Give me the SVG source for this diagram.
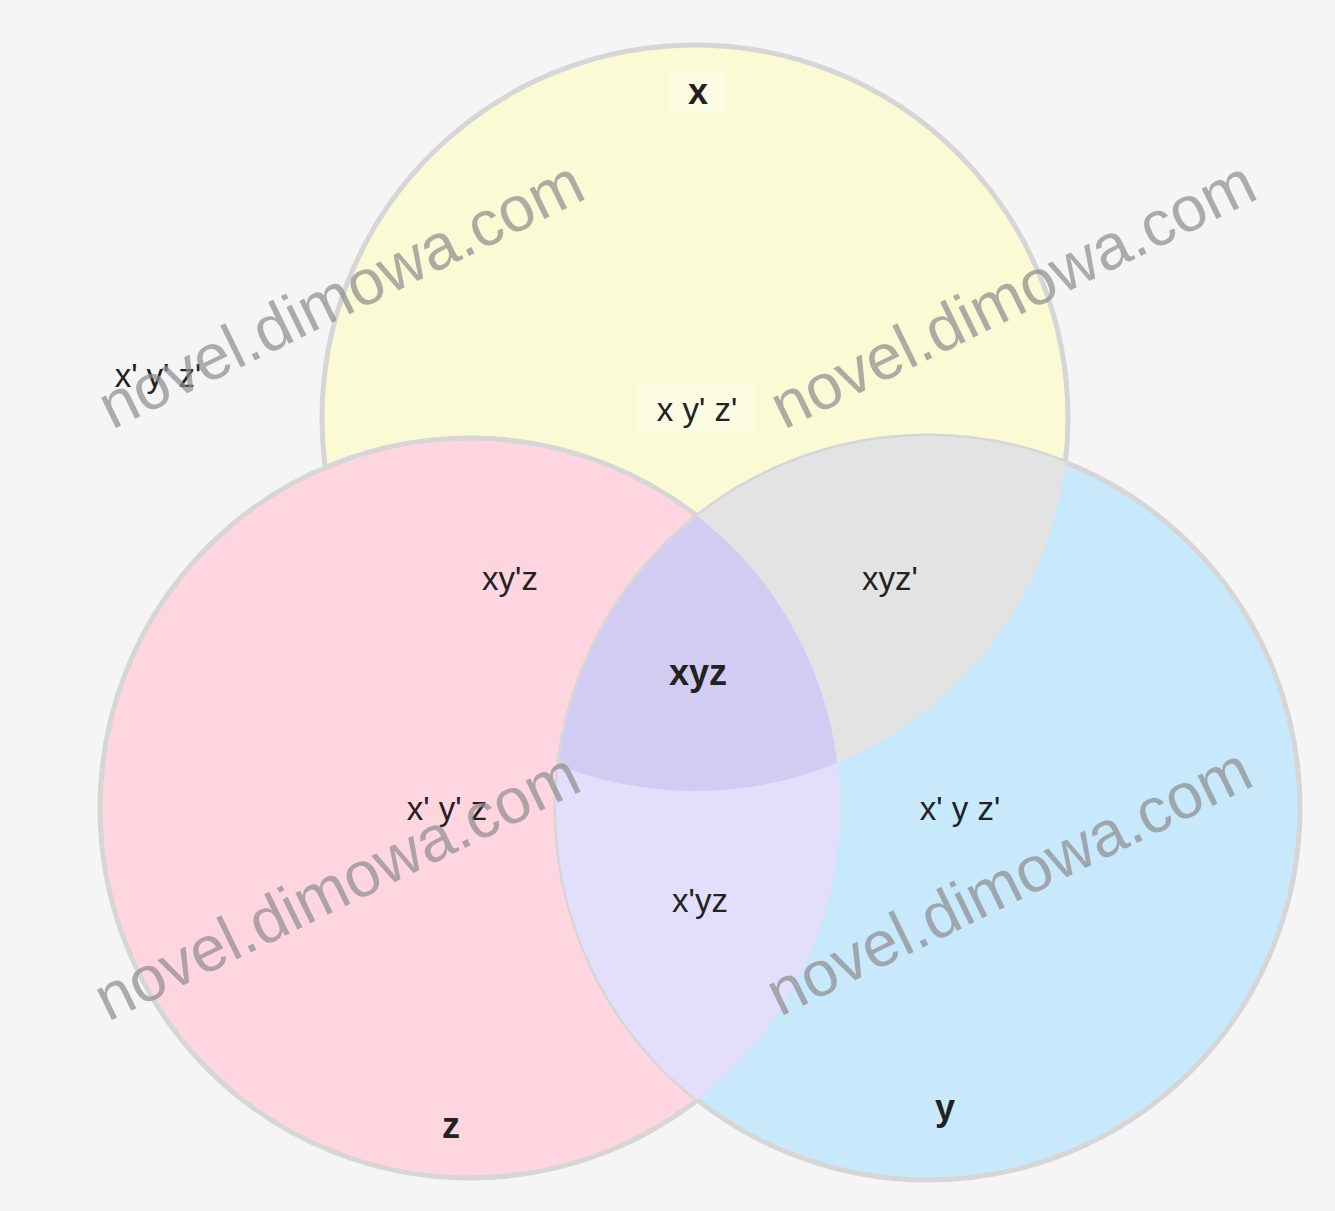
<svg xmlns="http://www.w3.org/2000/svg" width="1335" height="1211" viewBox="0 0 1335 1211">
  <style>
    .set { stroke: #d6d6d6; stroke-width: 5; }
    .lbl { font-family: "Liberation Sans", Arial, sans-serif; font-size: 33px; fill: #222; text-anchor: middle; }
    .big { font-weight: bold; font-size: 36px; }
    .box { fill: #ffffff; opacity: 0.35; }
    .wm { font-family: "Liberation Sans", Arial, sans-serif; font-size: 64px; fill: #8f8f8f; opacity: 0.72; }
  </style>
  <defs>
    <clipPath id="clipY"><circle cx="928" cy="808" r="372"/></clipPath>
    <clipPath id="clipZ"><circle cx="470" cy="808" r="370"/></clipPath>
    <clipPath id="clipX"><circle cx="695" cy="418" r="373"/></clipPath>
  </defs>
  <rect x="0" y="0" width="1335" height="1211" fill="#f5f5f5"/>

  <g id="set-x">
    <circle class="set" cx="695" cy="418" r="373" fill="#fafad4"/>
  </g>
  <g id="set-z">
    <circle class="set" cx="470" cy="808" r="370" fill="#ffd6e0"/>
  </g>
  <g id="set-y">
    <circle class="set" cx="928" cy="808" r="372" fill="#c8e8fc"/>
  </g>

  <g id="regions">
    <g id="region-x-y" clip-path="url(#clipY)">
      <circle cx="695" cy="418" r="373" fill="#e3e3e3"/>
    </g>
    <g id="region-y-z" clip-path="url(#clipY)">
      <circle cx="470" cy="808" r="370" fill="#e2defc"/>
    </g>
    <g id="region-x-y-z" clip-path="url(#clipY)">
      <g clip-path="url(#clipZ)">
        <circle cx="695" cy="418" r="373" fill="#d2ccf2"/>
      </g>
    </g>
  </g>

  <g id="labels">
    <g id="label-x"><rect class="box" x="670" y="72" width="56" height="40"/><text class="lbl big" x="698" y="104">x</text></g>
    <g id="label-xpypzp"><text class="lbl" x="158" y="387">x' y' z'</text></g>
    <g id="label-xypzp"><rect class="box" x="638" y="383" width="116" height="50"/><text class="lbl" x="697" y="421">x y' z'</text></g>
    <g id="label-xypz"><text class="lbl" x="510" y="590">xy'z</text></g>
    <g id="label-xyzp"><text class="lbl" x="890" y="590">xyz'</text></g>
    <g id="label-xyz"><text class="lbl big" x="698" y="685">xyz</text></g>
    <g id="label-xpypz"><text class="lbl" x="447" y="820">x' y' z</text></g>
    <g id="label-xpyzp"><text class="lbl" x="960" y="820">x' y z'</text></g>
    <g id="label-xpyz"><text class="lbl" x="700" y="912">x'yz</text></g>
    <g id="label-z"><text class="lbl big" x="451" y="1138">z</text></g>
    <g id="label-y"><text class="lbl big" x="945" y="1120">y</text></g>
  </g>

  <g id="watermarks">
    <text class="wm" transform="translate(112,430) rotate(-26)">novel.dimowa.com</text>
    <text class="wm" transform="translate(784,430) rotate(-26)">novel.dimowa.com</text>
    <text class="wm" transform="translate(108,1022) rotate(-26)">novel.dimowa.com</text>
    <text class="wm" transform="translate(780,1017) rotate(-26)">novel.dimowa.com</text>
  </g>
</svg>
